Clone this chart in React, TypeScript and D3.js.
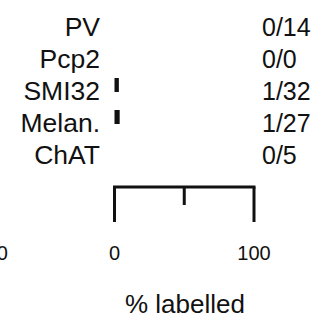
import React from "react";
import * as d3 from "d3";

const categories = ["PV", "Pcp2", "SMI32", "Melan.", "ChAT"];
const labelled = [0, 0, 1, 1, 0];
const totals = [14, 0, 32, 27, 5];
const axisTicks = [0, 50, 100];
const tickLabels = [0, 100];
const xLabel = "% labelled";

export default function App() {
  const W = 330;
  const H = 321;
  const x = d3.scaleLinear().domain([0, 100]).range([114.5, 254]);
  const y = d3.scalePoint<string>().domain(categories).range([21, 149]);
  const font = "'Liberation Sans', Arial, sans-serif";
  const barH = 14;
  const axisY = 187;

  return (
    <svg
      width={W}
      height={H}
      style={{ position: "absolute", left: 0, top: 0, background: "#fff" }}
      fontFamily={font}
    >
      {categories.map((c, i) => {
        const pct = totals[i] > 0 ? (labelled[i] / totals[i]) * 100 : 0;
        const cy = y(c) as number;
        return (
          <g key={c}>
            <text x={100} y={cy + 15} textAnchor="end" fontSize={26.5} fill="#111">
              {c}
            </text>
            {pct > 0 && (
              <rect
                x={x(0)}
                y={cy - barH / 2}
                width={x(pct) - x(0)}
                height={barH}
                fill="#111"
              />
            )}
            <text x={262} y={cy + 15} fontSize={25} fill="#111">
              {`${labelled[i]}/${totals[i]}`}
            </text>
          </g>
        );
      })}
      <line
        x1={x(0)}
        x2={x(100)}
        y1={axisY}
        y2={axisY}
        stroke="#111"
        strokeWidth={3}
        strokeLinecap="square"
      />
      {axisTicks.map((t) => (
        <line
          key={t}
          x1={x(t)}
          x2={x(t)}
          y1={axisY}
          y2={axisY + (t === 50 ? 18 : 35)}
          stroke="#111"
          strokeWidth={3}
        />
      ))}
      {tickLabels.map((t) => (
        <text key={t} x={x(t)} y={260} textAnchor="middle" fontSize={20} fill="#111">
          {t}
        </text>
      ))}
      <text x={8} y={260} textAnchor="end" fontSize={20} fill="#111">
        100
      </text>
      <text x={185} y={313} textAnchor="middle" fontSize={26} fill="#111">
        {xLabel}
      </text>
    </svg>
  );
}
